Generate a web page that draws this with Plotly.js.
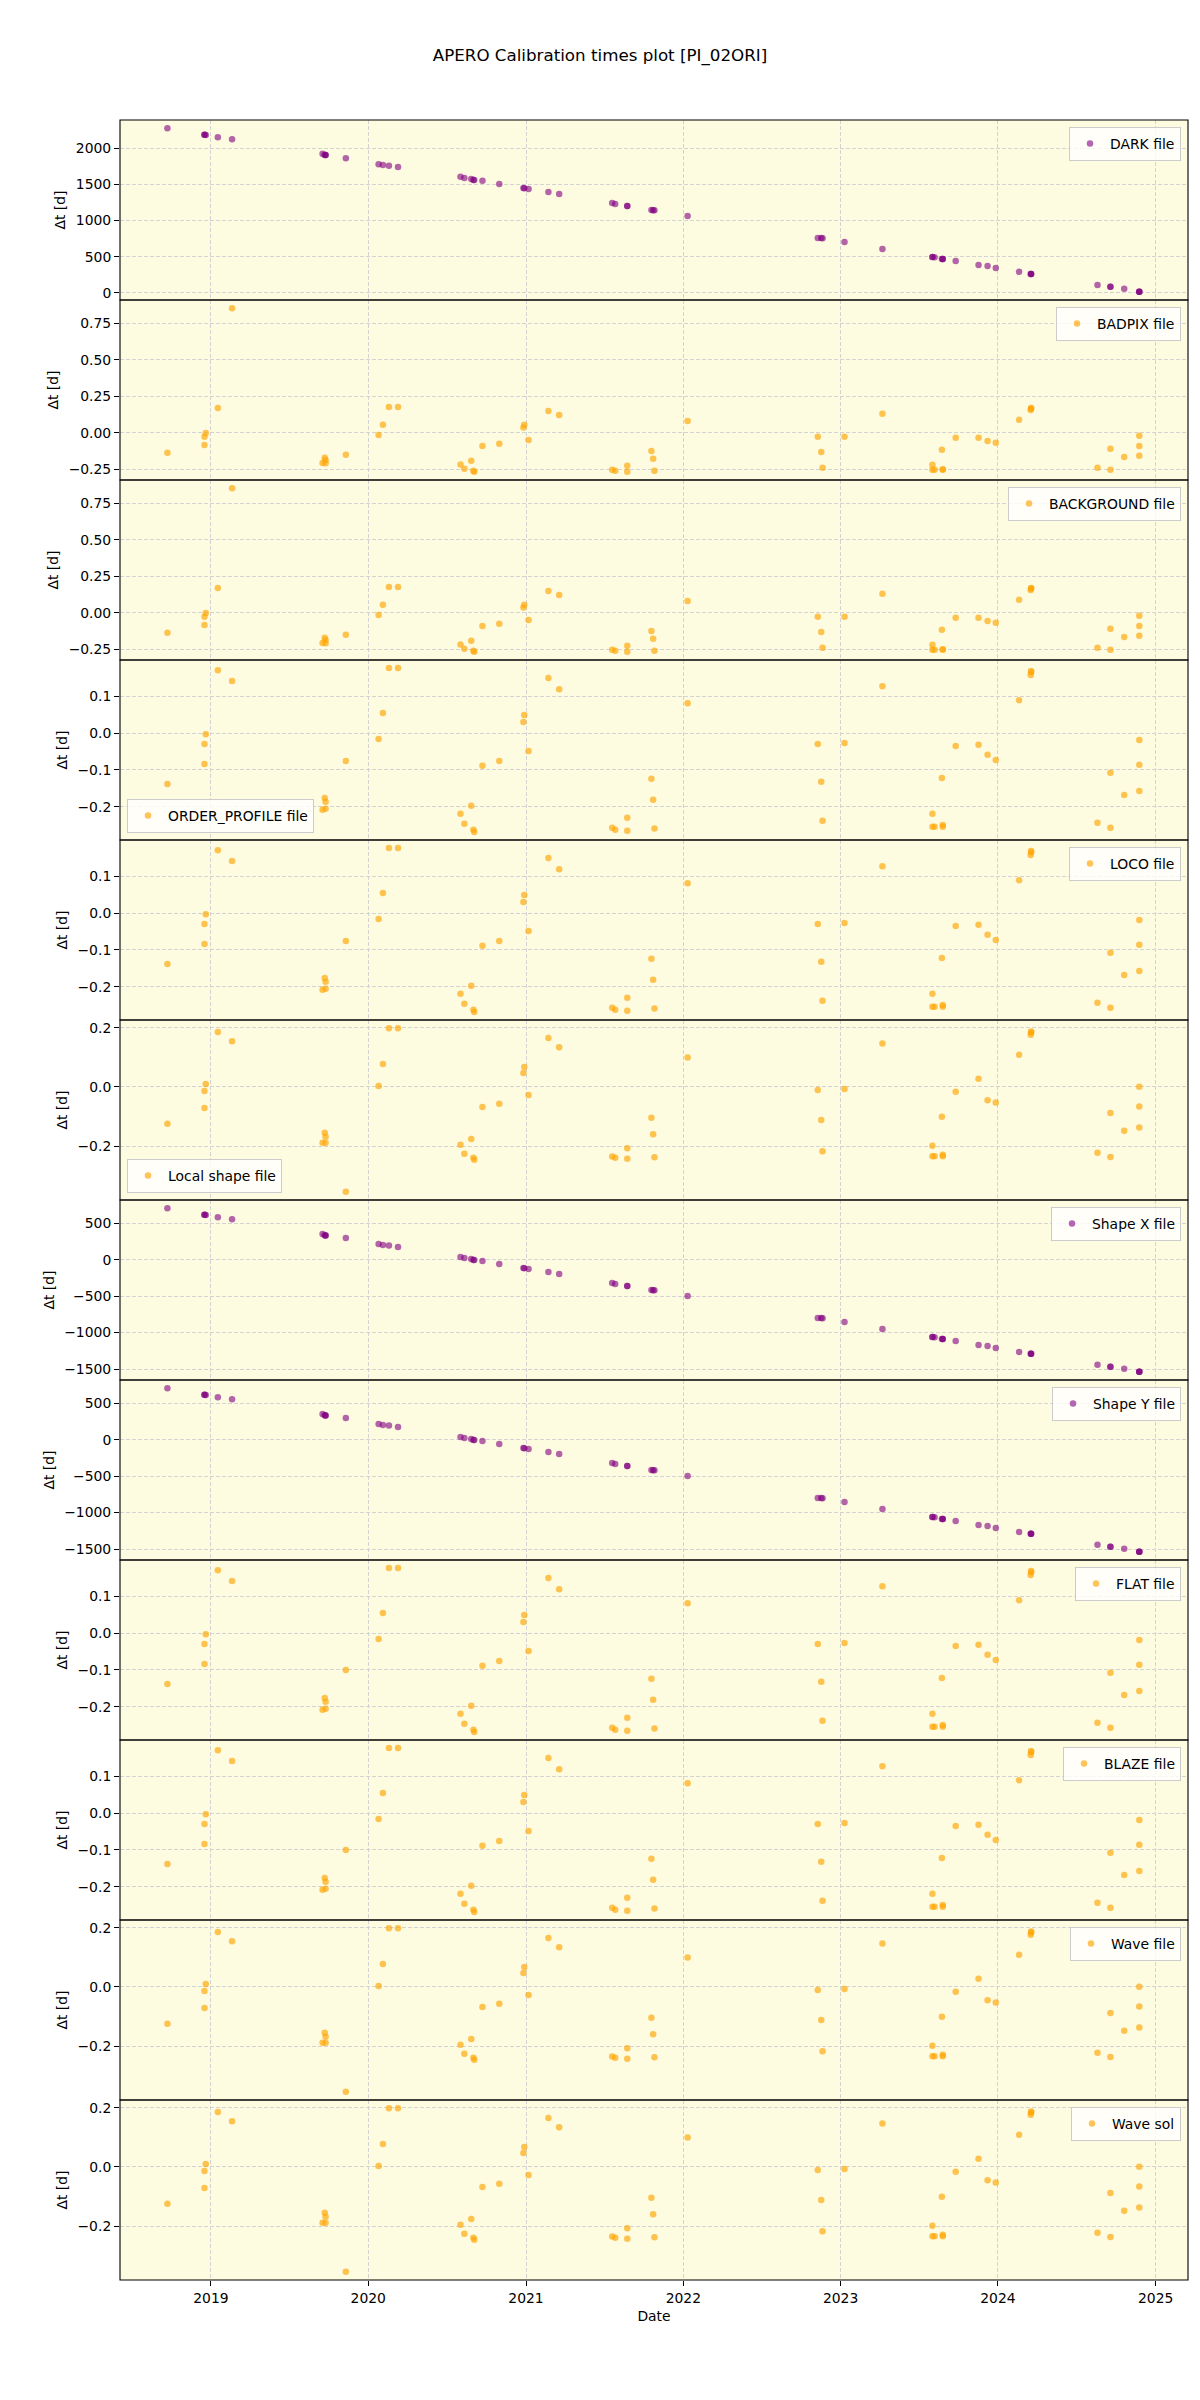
<!DOCTYPE html>
<html>
<head>
<meta charset="utf-8">
<script src="https://cdn.plot.ly/plotly-3.0.1.min.js"></script>
<style>html,body{margin:0;padding:0;background:#fff}</style>
</head>
<body>
<div id="chart" style="width:1200px;height:2400px"></div>
<script>
// Observation dates (shared by all panels)
const obsDates = [
 '2018-09-22','2018-12-17','2018-12-17','2018-12-20','2019-01-17','2019-02-19',
 '2019-09-17','2019-09-22','2019-09-24','2019-09-24','2019-11-10',
 '2020-01-25','2020-02-04','2020-02-18','2020-03-10',
 '2020-08-02','2020-08-11','2020-08-27','2020-09-01','2020-09-03','2020-09-22','2020-10-31',
 '2020-12-26','2020-12-28','2021-01-07','2021-02-22','2021-03-19',
 '2021-07-20','2021-07-27','2021-08-24','2021-08-24','2021-10-19','2021-10-23','2021-10-26',
 '2022-01-11','2022-11-09','2022-11-17','2022-11-20','2023-01-10','2023-04-08',
 '2023-08-02','2023-08-02','2023-08-07','2023-08-24','2023-08-26','2023-08-26',
 '2023-09-25','2023-11-17','2023-12-08','2023-12-27','2024-02-19',
 '2024-03-17','2024-03-18','2024-03-18','2024-08-19','2024-09-18','2024-09-18',
 '2024-10-20','2024-11-24','2024-11-24','2024-11-24'
];

const darkDt = [
 2276,2184,2184,2181,2152,2124,
 1922,1906,1904,1904,1862,
 1779,1766,1758,1738,
 1605,1586,1573,1561,1559,1550,1504,
 1448,1446,1435,1393,1366,
 1241,1228,1200,1200,1145,1143,1140,
 1062,759,757,755,703,607,
 497,497,493,469,469,469,
 441,386,372,345,290,
 262,262,262,110,83,83,
 55,14,14,14
];

const badpixDt = [
 -0.136,-0.027,-0.082,0.000,0.170,0.852,
 -0.205,-0.170,-0.186,-0.207,-0.150,
 -0.014,0.055,0.177,0.177,
 -0.216,-0.245,-0.191,-0.259,-0.266,-0.089,-0.075,
 0.036,0.055,-0.048,0.150,0.123,
 -0.252,-0.259,-0.225,-0.266,-0.123,-0.177,-0.259,
 0.082,-0.027,-0.130,-0.239,-0.027,0.130,
 -0.218,-0.252,-0.252,-0.116,-0.248,-0.252,
 -0.034,-0.034,-0.055,-0.068,0.089,
 0.157,0.170,0.166,-0.239,-0.109,-0.252,
 -0.164,-0.020,-0.089,-0.157
];

const backgroundDt = [
 -0.136,-0.027,-0.082,0.000,0.170,0.852,
 -0.205,-0.170,-0.186,-0.207,-0.150,
 -0.014,0.055,0.177,0.177,
 -0.216,-0.245,-0.191,-0.259,-0.266,-0.089,-0.075,
 0.036,0.055,-0.048,0.150,0.123,
 -0.252,-0.259,-0.225,-0.266,-0.123,-0.177,-0.259,
 0.082,-0.027,-0.130,-0.239,-0.027,0.130,
 -0.218,-0.252,-0.252,-0.116,-0.248,-0.252,
 -0.034,-0.034,-0.055,-0.068,0.089,
 0.157,0.170,0.166,-0.239,-0.109,-0.252,
 -0.164,-0.020,-0.089,-0.157
];

const orderProfileDt = [
 -0.138,-0.030,-0.084,-0.003,0.170,0.141,
 -0.208,-0.176,-0.186,-0.205,-0.076,
 -0.016,0.054,0.176,0.176,
 -0.219,-0.246,-0.197,-0.262,-0.268,-0.089,-0.076,
 0.030,0.049,-0.049,0.149,0.119,
 -0.257,-0.262,-0.230,-0.265,-0.124,-0.181,-0.259,
 0.081,-0.030,-0.132,-0.238,-0.027,0.127,
 -0.219,-0.254,-0.254,-0.122,-0.249,-0.254,
 -0.035,-0.032,-0.059,-0.073,0.089,
 0.157,0.168,0.165,-0.243,-0.108,-0.257,
 -0.168,-0.019,-0.086,-0.157
];

const locoDt = [
 -0.138,-0.030,-0.084,-0.003,0.170,0.141,
 -0.208,-0.176,-0.186,-0.205,-0.076,
 -0.016,0.054,0.176,0.176,
 -0.219,-0.246,-0.197,-0.262,-0.268,-0.089,-0.076,
 0.030,0.049,-0.049,0.149,0.119,
 -0.257,-0.262,-0.230,-0.265,-0.124,-0.181,-0.259,
 0.081,-0.030,-0.132,-0.238,-0.027,0.127,
 -0.219,-0.254,-0.254,-0.122,-0.249,-0.254,
 -0.035,-0.032,-0.059,-0.073,0.089,
 0.157,0.168,0.165,-0.243,-0.108,-0.257,
 -0.168,-0.019,-0.086,-0.157
];

const localShapeDt = [
 -0.125,-0.014,-0.071,0.010,0.186,0.155,
 -0.189,-0.155,-0.169,-0.189,-0.355,
 0.003,0.078,0.199,0.199,
 -0.196,-0.226,-0.176,-0.240,-0.247,-0.068,-0.057,
 0.047,0.068,-0.027,0.166,0.135,
 -0.236,-0.240,-0.208,-0.243,-0.104,-0.160,-0.238,
 0.100,-0.010,-0.112,-0.218,-0.007,0.147,
 -0.199,-0.235,-0.235,-0.101,-0.230,-0.235,
 -0.016,0.028,-0.045,-0.053,0.109,
 0.177,0.188,0.185,-0.223,-0.088,-0.237,
 -0.148,0.001,-0.066,-0.137
];

const shapeXDt = [
 708,616,616,613,584,557,
 352,336,333,333,297,
 215,201,195,174,
 37,23,9,-4,-5,-18,-59,
 -114,-116,-128,-169,-196,
 -320,-333,-361,-361,-416,-418,-420,
 -498,-799,-801,-803,-854,-950,
 -1059,-1059,-1063,-1087,-1087,-1087,
 -1114,-1169,-1183,-1210,-1265,
 -1292,-1292,-1292,-1443,-1470,-1470,
 -1498,-1539,-1539,-1539
];

const shapeYDt = [
 708,616,616,613,584,557,
 352,336,333,333,297,
 215,201,195,174,
 37,23,9,-4,-5,-18,-59,
 -114,-116,-128,-169,-196,
 -320,-333,-361,-361,-416,-418,-420,
 -498,-799,-801,-803,-854,-950,
 -1059,-1059,-1063,-1087,-1087,-1087,
 -1114,-1169,-1183,-1210,-1265,
 -1292,-1292,-1292,-1443,-1470,-1470,
 -1498,-1539,-1539,-1539
];

const flatDt = [
 -0.138,-0.030,-0.084,-0.003,0.170,0.141,
 -0.208,-0.176,-0.186,-0.205,-0.100,
 -0.016,0.054,0.176,0.176,
 -0.219,-0.246,-0.197,-0.262,-0.268,-0.089,-0.076,
 0.030,0.049,-0.049,0.149,0.119,
 -0.257,-0.262,-0.230,-0.265,-0.124,-0.181,-0.259,
 0.081,-0.030,-0.132,-0.238,-0.027,0.127,
 -0.219,-0.254,-0.254,-0.122,-0.249,-0.254,
 -0.035,-0.032,-0.059,-0.073,0.089,
 0.157,0.168,0.165,-0.243,-0.108,-0.257,
 -0.168,-0.019,-0.086,-0.157
];

const blazeDt = [
 -0.138,-0.030,-0.084,-0.003,0.170,0.141,
 -0.208,-0.176,-0.186,-0.205,-0.100,
 -0.016,0.054,0.176,0.176,
 -0.219,-0.246,-0.197,-0.262,-0.268,-0.089,-0.076,
 0.030,0.049,-0.049,0.149,0.119,
 -0.257,-0.262,-0.230,-0.265,-0.124,-0.181,-0.259,
 0.081,-0.030,-0.132,-0.238,-0.027,0.127,
 -0.219,-0.254,-0.254,-0.122,-0.249,-0.254,
 -0.035,-0.032,-0.059,-0.073,0.089,
 0.157,0.168,0.165,-0.243,-0.108,-0.257,
 -0.168,-0.019,-0.086,-0.157
];

const waveFileDt = [
 -0.125,-0.014,-0.071,0.010,0.186,0.155,
 -0.189,-0.155,-0.169,-0.189,-0.355,
 0.003,0.078,0.199,0.199,
 -0.196,-0.226,-0.176,-0.240,-0.247,-0.068,-0.057,
 0.047,0.068,-0.027,0.166,0.135,
 -0.236,-0.240,-0.208,-0.243,-0.104,-0.160,-0.238,
 0.100,-0.010,-0.112,-0.218,-0.007,0.147,
 -0.199,-0.235,-0.235,-0.101,-0.230,-0.235,
 -0.016,0.028,-0.045,-0.053,0.109,
 0.177,0.188,0.185,-0.223,-0.088,-0.237,
 -0.148,0.001,-0.066,-0.137
];

const waveSolDt = [
 -0.125,-0.014,-0.071,0.010,0.186,0.155,
 -0.189,-0.155,-0.169,-0.189,-0.355,
 0.003,0.078,0.199,0.199,
 -0.196,-0.226,-0.176,-0.240,-0.247,-0.068,-0.057,
 0.047,0.068,-0.027,0.166,0.135,
 -0.236,-0.240,-0.208,-0.243,-0.104,-0.160,-0.238,
 0.100,-0.010,-0.112,-0.218,-0.007,0.147,
 -0.199,-0.235,-0.235,-0.101,-0.230,-0.235,
 -0.016,0.028,-0.045,-0.053,0.109,
 0.177,0.188,0.185,-0.223,-0.088,-0.237,
 -0.148,0.001,-0.066,-0.137
];

const panelNames = ['DARK file','BADPIX file','BACKGROUND file','ORDER_PROFILE file','LOCO file',
  'Local shape file','Shape X file','Shape Y file','FLAT file','BLAZE file','Wave file','Wave sol'];
const panelValues = [darkDt,badpixDt,backgroundDt,orderProfileDt,locoDt,localShapeDt,
  shapeXDt,shapeYDt,flatDt,blazeDt,waveFileDt,waveSolDt];
const panelKind = ['time','cal','cal','cal','cal','cal','time','time','cal','cal','cal','cal'];

// axis settings per panel (styling, not data)
const axisCfg = [
  {range:[-99,2389], dtick:500, fmt:'d'},
  {range:[-0.322,0.908], dtick:0.25, fmt:'.2f'},
  {range:[-0.322,0.908], dtick:0.25, fmt:'.2f'},
  {range:[-0.290,0.198], dtick:0.1, fmt:'.1f'},
  {range:[-0.290,0.198], dtick:0.1, fmt:'.1f'},
  {range:[-0.383,0.227], dtick:0.2, fmt:'.1f'},
  {range:[-1651,820], dtick:500, fmt:'d'},
  {range:[-1651,820], dtick:500, fmt:'d'},
  {range:[-0.290,0.198], dtick:0.1, fmt:'.1f'},
  {range:[-0.290,0.198], dtick:0.1, fmt:'.1f'},
  {range:[-0.383,0.227], dtick:0.2, fmt:'.1f'},
  {range:[-0.383,0.227], dtick:0.2, fmt:'.1f'}
];
const legendLowerLeft = {3:true, 5:true};

const N = panelNames.length;
const W = 1200, H = 2400;
const mL = 120, mR = 12, mT = 120, mB = 120;
const plotW = W - mL - mR, plotH = H - mT - mB;
const FONT = 'DejaVu Sans, Arial, sans-serif';
const gridColor = '#d3d3d3';

const traces = [];
const layout = {
  width: W, height: H,
  margin: {l: mL, r: mR, t: mT, b: mB},
  paper_bgcolor: '#ffffff',
  plot_bgcolor: '#fdfbe0',
  font: {family: FONT, size: 13.9, color: '#000'},
  showlegend: true,
  title: {text: 'APERO Calibration times plot [PI_02ORI]', font: {size: 16.7, family: FONT},
          x: 0.5, xref: 'container', xanchor: 'center', y: 1 - 55/H, yref: 'container', yanchor: 'middle'},
  shapes: []
};

layout.xaxis = {
  type: 'date', anchor: 'y' + N,
  range: ['2018-06-04', '2025-03-17'],
  tick0: '2019-01-01', dtick: 'M12', tickformat: '%Y',
  ticks: 'outside', ticklen: 5, tickwidth: 1, tickcolor: '#000',
  showgrid: true, gridcolor: gridColor, griddash: '4px,2px', gridwidth: 1,
  zeroline: false, showline: false,
  tickfont: {size: 13.9},
  title: {text: 'Date', font: {size: 13.9}, standoff: 6}
};

for (let i = 0; i < N; i++) {
  const yName = i === 0 ? 'y' : 'y' + (i + 1);
  const yKey = i === 0 ? 'yaxis' : 'yaxis' + (i + 1);
  const lgName = i === 0 ? 'legend' : 'legend' + (i + 1);
  const color = panelKind[i] === 'time' ? 'rgba(128,0,128,0.6)' : 'rgba(255,165,0,0.65)';
  traces.push({
    type: 'scatter', mode: 'markers',
    x: obsDates, y: panelValues[i],
    xaxis: 'x', yaxis: yName, legend: lgName,
    name: panelNames[i],
    marker: {color: color, size: 6.5, line: {width: 0}},
    hoverinfo: 'x+y'
  });
  const top = 1 - i / N, bot = 1 - (i + 1) / N;
  const cfg = axisCfg[i];
  layout[yKey] = {
    domain: [bot, top], anchor: 'x',
    range: cfg.range, tick0: 0, dtick: cfg.dtick, tickformat: cfg.fmt,
    ticks: 'outside', ticklen: 5, tickwidth: 1, tickcolor: '#000',
    showgrid: true, gridcolor: gridColor, griddash: '4px,2px', gridwidth: 1,
    zeroline: false, showline: false,
    tickfont: {size: 13.9},
    title: {text: 'Δt [d]', font: {size: 13.9}, standoff: 6}
  };
  const padX = 7 / plotW, padY = 7 / plotH;
  if (legendLowerLeft[i]) {
    layout[lgName] = {x: padX, xanchor: 'left', y: bot + padY, yanchor: 'bottom'};
  } else {
    layout[lgName] = {x: 1 - padX, xanchor: 'right', y: top - padY, yanchor: 'top'};
  }
  Object.assign(layout[lgName], {
    xref: 'paper', yref: 'paper',
    bgcolor: 'rgba(255,255,255,0.8)', bordercolor: '#cccccc', borderwidth: 1,
    font: {size: 13.9, family: FONT}, itemsizing: 'trace'
  });
  layout.shapes.push({
    type: 'rect', xref: 'x domain', yref: yName + ' domain',
    x0: 0, x1: 1, y0: 0, y1: 1, line: {color: '#000', width: 1.1}, layer: 'above'
  });
}

Plotly.newPlot('chart', traces, layout, {displayModeBar: false, staticPlot: true});
</script>
</body>
</html>
